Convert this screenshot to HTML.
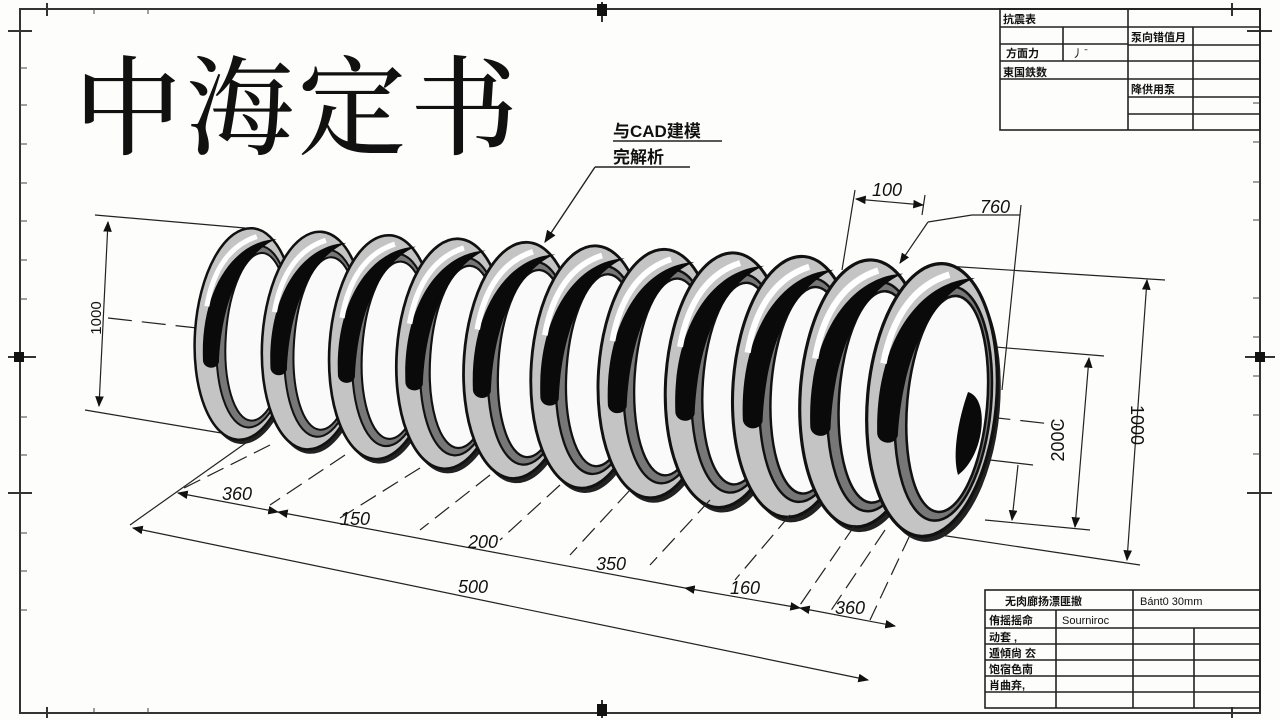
<!DOCTYPE html>
<html><head><meta charset="utf-8"><style>
html,body{margin:0;padding:0;background:#fdfdfc;}
svg{display:block}
text{font-family:"Liberation Sans","Noto Sans CJK SC",sans-serif;fill:#111}
</style></head><body>
<svg width="1280" height="720" viewBox="0 0 1280 720" xmlns="http://www.w3.org/2000/svg" xmlns:xlink="http://www.w3.org/1999/xlink">
<defs>
<marker id="a" viewBox="0 0 10 10" refX="9" refY="5" markerWidth="9" markerHeight="9" orient="auto-start-reverse"><path d="M0,1 L10,5 L0,9 z" fill="#111"/></marker>
<g id="c">
<ellipse cx="3" cy="4" rx="50" ry="106" fill="#222"/>
<ellipse cx="0" cy="0" rx="50" ry="106" fill="#c4c4c4" stroke="#111" stroke-width="2.5"/>
<ellipse cx="9" cy="2" rx="37" ry="91" fill="#777" stroke="#111" stroke-width="2"/>
<ellipse cx="12" cy="2" rx="31" ry="84" fill="#fafafa" stroke="#111" stroke-width="2"/>
<path d="M-40,30 C-48,-40 -18,-92 25,-97 C0,-85 -26,-45 -24,30 C-26,38 -38,38 -40,30 Z" fill="#0a0a0a"/>
<path d="M-40,-25 C-36,-64 -20,-88 5,-98" stroke="#fff" stroke-width="5" fill="none"/>
</g>
</defs>
<rect x="0" y="0" width="1280" height="720" fill="#fdfdfc"/>
<!-- frame -->
<g stroke="#333" stroke-width="2" fill="none">
<rect x="20" y="9" width="1240" height="704"/>
<line x1="8" y1="357" x2="36" y2="357"/><line x1="1245" y1="357" x2="1275" y2="357"/>
<line x1="602" y1="2" x2="602" y2="22"/><line x1="602" y1="700" x2="602" y2="718"/>
<line x1="8" y1="31" x2="32" y2="31"/><line x1="8" y1="493" x2="32" y2="493"/>
<line x1="47" y1="3" x2="47" y2="16"/><line x1="47" y1="707" x2="47" y2="718"/>
<line x1="1247" y1="31" x2="1272" y2="31"/><line x1="1247" y1="493" x2="1272" y2="493"/>
<line x1="1232" y1="3" x2="1232" y2="16"/><line x1="1232" y1="707" x2="1232" y2="718"/>
</g>
<g stroke="#444" stroke-width="1">
<line x1="20" y1="68" x2="27" y2="68"/><line x1="20" y1="105" x2="27" y2="105"/><line x1="20" y1="144" x2="27" y2="144"/><line x1="20" y1="183" x2="27" y2="183"/><line x1="20" y1="221" x2="27" y2="221"/><line x1="20" y1="260" x2="27" y2="260"/><line x1="20" y1="299" x2="27" y2="299"/><line x1="20" y1="417" x2="27" y2="417"/><line x1="20" y1="455" x2="27" y2="455"/><line x1="20" y1="533" x2="27" y2="533"/><line x1="20" y1="571" x2="27" y2="571"/><line x1="20" y1="610" x2="27" y2="610"/>
<line x1="1253" y1="103" x2="1260" y2="103"/><line x1="1253" y1="142" x2="1260" y2="142"/><line x1="1253" y1="182" x2="1260" y2="182"/><line x1="1253" y1="220" x2="1260" y2="220"/><line x1="1253" y1="298" x2="1260" y2="298"/><line x1="1253" y1="337" x2="1260" y2="337"/><line x1="1253" y1="376" x2="1260" y2="376"/><line x1="1253" y1="415" x2="1260" y2="415"/><line x1="1253" y1="454" x2="1260" y2="454"/>
<line x1="94" y1="9" x2="94" y2="14"/><line x1="148" y1="9" x2="148" y2="14"/><line x1="94" y1="708" x2="94" y2="713"/><line x1="148" y1="708" x2="148" y2="713"/>
</g>
<rect x="14" y="352" width="10" height="10" fill="#111"/><rect x="1255" y="352" width="10" height="10" fill="#111"/>
<rect x="597" y="4" width="10" height="12" fill="#111"/><rect x="597" y="704" width="10" height="12" fill="#111"/>

<!-- top-right table -->
<g stroke="#222" stroke-width="1.6" fill="none">
<rect x="1000" y="9" width="260" height="121"/>
<line x1="1128" y1="9" x2="1128" y2="130"/>
<line x1="1193" y1="27" x2="1193" y2="130"/>
<line x1="1000" y1="27" x2="1260" y2="27"/>
<line x1="1000" y1="44" x2="1128" y2="44"/>
<line x1="1128" y1="45" x2="1260" y2="45"/>
<line x1="1000" y1="61" x2="1260" y2="61"/>
<line x1="1000" y1="79" x2="1260" y2="79"/>
<line x1="1128" y1="97" x2="1260" y2="97"/>
<line x1="1128" y1="114" x2="1260" y2="114"/>
<line x1="1063" y1="27" x2="1063" y2="61"/>
</g>
<g font-size="11" font-weight="bold">
<text x="1003" y="23">抗震表</text>
<text x="1006" y="57">方面力</text>
<text x="1003" y="76">東国鉄数</text>
<text x="1131" y="41">泵向错值月</text>
<text x="1131" y="93">降供用泵</text>
<text x="1072" y="57" font-weight="normal">丿 ̄</text>
</g>

<!-- bottom-right table -->
<g stroke="#222" stroke-width="1.6" fill="none">
<rect x="985" y="590" width="275" height="118"/>
<line x1="985" y1="610" x2="1260" y2="610"/>
<line x1="985" y1="628" x2="1260" y2="628"/>
<line x1="985" y1="644" x2="1260" y2="644"/>
<line x1="985" y1="660" x2="1260" y2="660"/>
<line x1="985" y1="676" x2="1260" y2="676"/>
<line x1="985" y1="692" x2="1260" y2="692"/>
<line x1="1133" y1="590" x2="1133" y2="708"/>
<line x1="1056" y1="610" x2="1056" y2="708"/>
<line x1="1194" y1="628" x2="1194" y2="708"/>
</g>
<g font-size="11" font-weight="bold">
<text x="1005" y="605">无肉廊扬漂匪撤</text>
<text x="1140" y="605" font-weight="normal">Bánt0 30mm</text>
<text x="989" y="624">侑摇摇命</text>
<text x="1062" y="624" font-weight="normal">Sourniroc</text>
<text x="989" y="641">动套 ,</text>
<text x="989" y="657">遁傾尙 厺</text>
<text x="989" y="673">饱宿色南</text>
<text x="989" y="689">肖曲弃,</text>
</g>

<!-- title -->
<text x="74" y="146" font-size="108" letter-spacing="4" style="font-family:'Noto Serif CJK SC',serif;font-weight:500">中海定书</text>

<!-- annotation -->
<text x="613" y="137" font-size="17" font-weight="bold">与CAD建模</text>
<line x1="613" y1="141" x2="722" y2="141" stroke="#222" stroke-width="1.4"/>
<text x="613" y="163" font-size="17" font-weight="bold">完解析</text>
<line x1="595" y1="167" x2="690" y2="167" stroke="#222" stroke-width="1.4"/>
<line x1="595" y1="167" x2="545" y2="242" stroke="#222" stroke-width="1.4" marker-end="url(#a)"/>

<!-- extension lines -->
<g stroke="#222" stroke-width="1.2" fill="none">
<line x1="95" y1="215" x2="245" y2="228"/>
<line x1="85" y1="410" x2="245" y2="437"/>
<line x1="108" y1="222" x2="99" y2="406" marker-start="url(#a)" marker-end="url(#a)"/>
<line x1="108" y1="318" x2="1060" y2="425" stroke-dasharray="24 10"/>
<line x1="930" y1="265" x2="1165" y2="280"/>
<line x1="940" y1="535" x2="1140" y2="565"/>
<line x1="1147" y1="280" x2="1127" y2="560" marker-start="url(#a)" marker-end="url(#a)"/>
<line x1="935" y1="342" x2="1104" y2="356"/>
<line x1="990" y1="460" x2="1033" y2="465"/>
<line x1="985" y1="520" x2="1090" y2="530"/>
<line x1="1089" y1="358" x2="1075" y2="527" marker-start="url(#a)" marker-end="url(#a)"/>
<line x1="1018" y1="465" x2="1012" y2="520" marker-end="url(#a)"/>
<line x1="855" y1="190" x2="842" y2="270"/>
<line x1="925" y1="195" x2="922" y2="215"/>
<line x1="856" y1="199" x2="923" y2="205" marker-start="url(#a)" marker-end="url(#a)"/>
<line x1="1021" y1="205" x2="1002" y2="390"/>
<line x1="972" y1="215" x2="1020" y2="215"/>
<line x1="972" y1="215" x2="928" y2="222"/>
<line x1="928" y1="222" x2="900" y2="263" marker-end="url(#a)"/>
</g>

<!-- spring coils -->
<use xlink:href="#c" href="#c" transform="translate(245,334) rotate(4) scale(1)"/>
<use xlink:href="#c" href="#c" transform="translate(313.7,340.6) rotate(4) scale(1.029)"/>
<use xlink:href="#c" href="#c" transform="translate(382.4,347.2) rotate(4) scale(1.058)"/>
<use xlink:href="#c" href="#c" transform="translate(451.1,353.8) rotate(4) scale(1.087)"/>
<use xlink:href="#c" href="#c" transform="translate(519.8,360.4) rotate(4) scale(1.116)"/>
<use xlink:href="#c" href="#c" transform="translate(588.5,367) rotate(4) scale(1.145)"/>
<use xlink:href="#c" href="#c" transform="translate(657.2,373.6) rotate(4) scale(1.174)"/>
<use xlink:href="#c" href="#c" transform="translate(725.9,380.2) rotate(4) scale(1.203)"/>
<use xlink:href="#c" href="#c" transform="translate(794.6,386.8) rotate(4) scale(1.232)"/>
<use xlink:href="#c" href="#c" transform="translate(863.3,393.4) rotate(4) scale(1.261)"/>
<use xlink:href="#c" href="#c" transform="translate(932,400) rotate(5) scale(1.29)"/>
<path d="M968,392 C990,398 985,455 958,475 C952,455 958,420 968,392Z" fill="#0a0a0a"/>

<g font-size="18" font-style="italic">
<text x="872" y="196">100</text>
<text x="980" y="213">760</text>
<text transform="translate(101,318) rotate(-90)" text-anchor="middle" font-size="15" font-style="normal">1000</text>
<text transform="translate(1131,425) rotate(90)" text-anchor="middle" font-style="normal">1000</text>
<text transform="translate(1064,440) rotate(-90)" text-anchor="middle" font-style="normal">200C</text>
</g>

<!-- bottom dimension extension lines (dashed) -->
<g stroke="#222" stroke-width="1.2" stroke-dasharray="18 8" fill="none">
<line x1="270" y1="445" x2="180" y2="490"/>
<line x1="345" y1="455" x2="270" y2="505"/>
<line x1="420" y1="468" x2="340" y2="518"/>
<line x1="490" y1="475" x2="420" y2="530"/>
<line x1="560" y1="485" x2="500" y2="540"/>
<line x1="630" y1="490" x2="570" y2="555"/>
<line x1="710" y1="500" x2="650" y2="565"/>
<line x1="790" y1="515" x2="735" y2="580"/>
<line x1="855" y1="525" x2="800" y2="605"/>
<line x1="885" y1="530" x2="830" y2="612"/>
<line x1="910" y1="535" x2="870" y2="620"/>
</g>
<g stroke="#222" stroke-width="1.2" fill="none">
<line x1="250" y1="440" x2="130" y2="525"/>
<line x1="178" y1="493" x2="278" y2="512" marker-start="url(#a)" marker-end="url(#a)"/>
<line x1="278" y1="512" x2="685" y2="588" marker-start="url(#a)"/>
<line x1="685" y1="588" x2="800" y2="608" marker-start="url(#a)" marker-end="url(#a)"/>
<line x1="800" y1="608" x2="895" y2="626" marker-start="url(#a)" marker-end="url(#a)"/>
<line x1="133" y1="528" x2="868" y2="680" marker-start="url(#a)" marker-end="url(#a)"/>
</g>
<g font-size="18" font-style="italic">
<text x="222" y="500">360</text>
<text x="340" y="525">150</text>
<text x="468" y="548">200</text>
<text x="596" y="570">350</text>
<text x="730" y="594">160</text>
<text x="835" y="614">360</text>
<text x="458" y="593">500</text>
</g>
</svg>
</body></html>
